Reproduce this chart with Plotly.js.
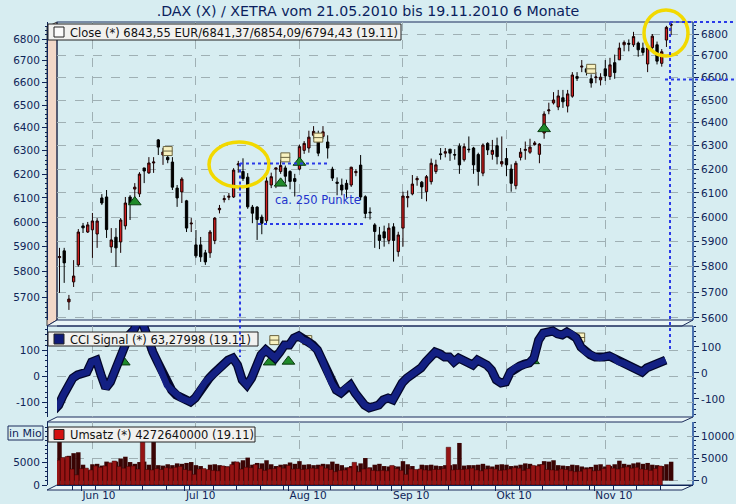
<!DOCTYPE html>
<html><head><meta charset="utf-8">
<script src="https://cdn.plot.ly/plotly-3.0.1.min.js"></script>
<style>html,body{margin:0;padding:0;background:#d7edf1;}</style>
</head><body><div id="chart" style="width:736px;height:504px;"></div>
<script>
const dates = [
"2010-05-21","2010-05-24","2010-05-25","2010-05-26","2010-05-27","2010-05-28","2010-05-31",
"2010-06-01","2010-06-02","2010-06-03","2010-06-04","2010-06-07","2010-06-08","2010-06-09","2010-06-10","2010-06-11","2010-06-14","2010-06-15","2010-06-16","2010-06-17","2010-06-18","2010-06-21","2010-06-22","2010-06-23","2010-06-24","2010-06-25","2010-06-28","2010-06-29","2010-06-30",
"2010-07-01","2010-07-02","2010-07-05","2010-07-06","2010-07-07","2010-07-08","2010-07-09","2010-07-12","2010-07-13","2010-07-14","2010-07-15","2010-07-16","2010-07-19","2010-07-20","2010-07-21","2010-07-22","2010-07-23","2010-07-26","2010-07-27","2010-07-28","2010-07-29","2010-07-30",
"2010-08-02","2010-08-03","2010-08-04","2010-08-05","2010-08-06","2010-08-09","2010-08-10","2010-08-11","2010-08-12","2010-08-13","2010-08-16","2010-08-17","2010-08-18","2010-08-19","2010-08-20","2010-08-23","2010-08-24","2010-08-25","2010-08-26","2010-08-27","2010-08-30","2010-08-31",
"2010-09-01","2010-09-02","2010-09-03","2010-09-06","2010-09-07","2010-09-08","2010-09-09","2010-09-10","2010-09-13","2010-09-14","2010-09-15","2010-09-16","2010-09-17","2010-09-20","2010-09-21","2010-09-22","2010-09-23","2010-09-24","2010-09-27","2010-09-28","2010-09-29","2010-09-30",
"2010-10-01","2010-10-04","2010-10-05","2010-10-06","2010-10-07","2010-10-08","2010-10-11","2010-10-12","2010-10-13","2010-10-14","2010-10-15","2010-10-18","2010-10-19","2010-10-20","2010-10-21","2010-10-22","2010-10-25","2010-10-26","2010-10-27","2010-10-28","2010-10-29",
"2010-11-01","2010-11-02","2010-11-03","2010-11-04","2010-11-05","2010-11-08","2010-11-09","2010-11-10","2010-11-11","2010-11-12","2010-11-15","2010-11-16","2010-11-17","2010-11-18","2010-11-19"];

const openP = [
5836,5863,5662,5740,5807,5964,5939,5948,5931,6079,
6083,5879,5918,5899,5964,6083,6116,6096,6205,6184,
6226,6325,6260,6250,6230,6120,6104,6067,5972,5887,
5887,5855,5855,5904,6030,6072,6082,6083,6218,6190,
6166,6041,6041,6000,5985,6133,6200,6190,6205,6190,
6160,6200,6280,6290,6345,6325,6340,6316,6200,6145,
6133,6140,6133,6185,6217,6084,6020,5968,5927,5940,
5905,5960,5860,5955,6080,6096,6155,6145,6105,6147,
6190,6265,6268,6285,6262,6298,6240,6285,6290,6262,
6183,6310,6263,6300,6222,6245,6200,6130,6250,6280,
6272,6305,6263,6355,6452,6487,6469,6510,6473,6517,
6605,6648,6640,6595,6600,6590,6640,6605,6668,6681,
6750,6757,6750,6758,6735,6662,6737,6750,6665,6772,
6841.37];
const highP = [
5875,5875,5689,5826,5951,5976,5980,6017,5996,6095,
6112,5955,5955,5996,6083,6091,6141,6187,6205,6251,
6251,6329,6290,6275,6251,6133,6166,6071,5996,5947,
5919,5867,5947,6000,6050,6090,6100,6204,6235,6246,
6183,6050,6045,6010,6165,6185,6205,6240,6215,6195,
6180,6305,6320,6365,6385,6365,6385,6345,6210,6165,
6160,6155,6210,6200,6260,6090,6040,5975,5960,5965,
5975,5975,5940,6105,6110,6175,6170,6150,6175,6245,
6240,6290,6290,6285,6285,6310,6310,6340,6295,6270,
6310,6315,6325,6335,6340,6290,6220,6235,6290,6318,
6330,6320,6311,6450,6488,6535,6545,6545,6545,6625,
6625,6680,6650,6615,6625,6620,6680,6690,6705,6760,
6770,6775,6810,6765,6760,6742,6800,6765,6730,6838,
6854.09];
const lowP = [
5697,5736,5631,5720,5800,5935,5935,5835,5875,6050,
5915,5855,5799,5855,5949,5988,6083,6083,6141,6180,
6184,6260,6218,6225,6112,6042,6058,5939,5939,5835,
5819,5807,5835,5890,6015,6060,6070,6079,6185,6150,
6034,5975,5907,5930,5975,6120,6120,6180,6140,6115,
6085,6195,6265,6270,6330,6255,6330,6245,6150,6090,
6090,6080,6125,6170,6070,5995,5990,5875,5870,5880,
5890,5820,5840,5880,6040,6090,6130,6075,6065,6135,
6180,6240,6250,6235,6240,6180,6232,6270,6180,6130,
6170,6260,6240,6220,6210,6170,6105,6115,6237,6240,
6265,6300,6225,6330,6437,6480,6455,6465,6445,6510,
6585,6625,6610,6555,6575,6565,6585,6590,6595,6680,
6720,6720,6740,6695,6700,6625,6730,6660,6650,6740,
6794.43];
const closeP = [
5840,5815,5673,5763,5939,5956,5968,5984,5984,6058,
5949,5907,5875,5988,6058,6054,6124,6179,6192,6226,
6230,6294,6273,6240,6124,6079,6158,5955,5975,5843,
5839,5819,5939,5996,6036,6076,6086,6196,6222,6160,
6042,6016,5990,5975,6150,6168,6205,6215,6170,6148,
6148,6296,6310,6337,6362,6268,6360,6290,6162,6140,
6112,6115,6208,6190,6083,6015,6018,5941,5905,5915,
5955,5905,5927,6087,6085,6137,6160,6125,6168,6225,
6218,6262,6274,6268,6260,6218,6296,6283,6218,6190,
6303,6282,6280,6253,6232,6218,6140,6225,6272,6284,
6294,6312,6307,6438,6456,6500,6518,6492,6527,6612,
6597,6652,6625,6576,6603,6602,6608,6658,6623,6735,
6761,6753,6788,6727,6715,6735,6790,6675,6718,6831,
6843.55];

const cciSignal = [
-129,-110,-71,-33,-6,6,10,17,56,63,
6,-44,-21,25,83,121,160,179,217,198,
140,94,56,17,-33,-52,-71,-83,-90,-98,
-83,-52,-25,-6,13,33,48,63,71,44,
-13,-33,-6,44,83,102,83,71,94,121,
121,148,156,140,133,121,102,63,17,-25,
-52,-63,-44,-33,-63,-90,-110,-121,-117,-110,
-90,-83,-90,-52,-25,-6,6,17,33,56,
79,94,87,75,75,56,71,63,52,44,
63,56,44,25,-13,-25,-21,17,33,40,
48,52,71,140,167,171,175,164,160,171,
164,148,113,94,83,75,71,75,79,71,
56,52,44,36,25,17,33,40,48,60,
63.27998];

const umsatzMio = [
10500,4800,5600,6200,6400,3600,2300,3700,3800,3400,
4300,4000,4300,5000,5400,4200,3800,4200,4300,3600,
10800,3500,3400,3700,3500,3900,3800,4000,4200,3500,
3300,2400,3600,3700,3500,3300,3200,4300,4100,4600,
5200,3600,4000,3900,4600,3700,3300,3600,3700,4100,
3800,4400,3600,3700,3500,3600,3800,3700,4300,3800,
3500,3000,3300,3400,3900,5100,3000,3600,3800,3300,
3200,3300,3200,4400,3700,3300,2400,3600,3500,3600,
3400,3300,3500,3500,3700,8500,3400,3500,3500,3600,
3800,3400,3200,3600,3700,3600,3300,3400,3600,3900,
3800,3300,3700,4400,4300,4600,3500,3400,3300,3600,
3500,3200,3000,3100,3600,3700,3200,3300,3700,4500,
3800,3600,3900,4100,3800,4000,3600,3500,3300,3700,
4272.64];

const signalIdx = [16, 47, 51, 103];
const signalPrice = [6062, 6140, 6228, 6373];
const markIdx = [23, 48, 55, 113];
const markPrice = [6277, 6250, 6335, 6640];
const cciSignalLevel = [55, 55, 58, 60];
const cciMarkLevel = [150, 140, 140, 150];
const monthNames = ["Jan","Feb","Mrz","Apr","Mai","Jun","Jul","Aug","Sep","Okt","Nov","Dez"];
const priceTicks = [5600,5700,5800,5900,6000,6100,6200,6300,6400,6500,6600,6700,6800];
const cciTicks = [-100, 0, 100];
const volTicks = [0, 5000, 10000];

// ---------- geometry ----------
const W = 736, H = 504;
const px = x => x / W, py = y => 1 - y / H;
const LN10 = Math.LN10;
const X_L = 57, X_R = 693, X_I0 = 59.5, X_STEP = 4.705, FRONT = 11, MID = 5.5;
const xr = [(X_L - X_I0) / X_STEP, (X_R - X_I0) / X_STEP];
const shiftR = (r, p) => [r[0] + p / X_STEP, r[1] + p / X_STEP];

const K = 1462.7, P_TOP = 22, P_BOT = 320;
const mainRange = [Math.log10(6800) - (P_BOT - 34) / K / LN10, Math.log10(6800) + (34 - P_TOP) / K / LN10];
const mainFront = mainRange.map(v => v + 5 / K / LN10);

const C_TOP = 326, C_BOT = 417, C_ZERO = 376.5, C_S = 0.26;
const cciRange = [(C_ZERO - C_BOT) / C_S, (C_ZERO - C_TOP) / C_S];
const cciRight = cciRange.map(v => v - 13.5);

const V_TOP = 422, V_BOT = 485, V_ZERO_R = 480.7, VPP = 225.2;
const volRight = [-(V_BOT - V_ZERO_R) * VPP, (V_ZERO_R - V_TOP) * VPP];
const volLeft = [0, (V_BOT - V_TOP) * VPP];

const idx = dates.map((d, i) => i);
const monthIdx = [], monthText = [], weekIdx = [];
dates.forEach((d, i) => {
  const dt = new Date(d + "T12:00:00Z");
  if (i > 0 && d.slice(5, 7) !== dates[i - 1].slice(5, 7)) {
    monthIdx.push(i); monthText.push(monthNames[dt.getUTCMonth()] + " " + d.slice(2, 4));
  }
  if (dt.getUTCDay() === 5) weekIdx.push(i);
});

const NAVY = "#0f2558", GRID = "#9fb0b4", FONT = "DejaVu Sans";
const tickFont = {family: FONT, size: 10.5, color: NAVY};
const priceMinor = []; for (let v = 5600; v <= 6860; v += 20) priceMinor.push(v);
const cciMinor = []; for (let v = -180; v <= 190; v += 20) cciMinor.push(v);
const volMinor = []; for (let v = 0; v <= 13000; v += 1000) volMinor.push(v);

const xBase = {domain: [px(X_L), px(X_R)], range: xr, showticklabels: false, ticks: "",
  tickmode: "array", tickvals: monthIdx, showgrid: true, gridcolor: GRID, griddash: "dash",
  gridwidth: 1, zeroline: false, showline: false, fixedrange: true};

const traces = [
  {type: "candlestick", x: idx, open: openP, high: highP, low: lowP, close: closeP,
   text: dates, xaxis: "x", yaxis: "y", whiskerwidth: 0,
   increasing: {line: {color: "#1a0000", width: 1}, fillcolor: "#d21e1e"},
   decreasing: {line: {color: "#000000", width: 1}, fillcolor: "#000000"},
   showlegend: false, hoverinfo: "skip"},
  {type: "scatter", mode: "markers", x: signalIdx, y: signalPrice, xaxis: "x", yaxis: "y",
   marker: {symbol: "triangle-up", size: 11, color: "#1f8a2a", line: {color: "#0a3a10", width: 1}},
   showlegend: false, hoverinfo: "skip"},
  {type: "scatter", mode: "markers", x: markIdx, y: markPrice, xaxis: "x", yaxis: "y",
   marker: {symbol: "square", size: 9, color: "#f8f2c0", line: {color: "#6b6440", width: 1}},
   showlegend: false, hoverinfo: "skip"},
  {type: "scatter", mode: "markers", x: markIdx, y: markPrice, xaxis: "x", yaxis: "y",
   marker: {symbol: "line-ew", size: 7, line: {color: "#6b6440", width: 1}},
   showlegend: false, hoverinfo: "skip"},
  {type: "scatter", mode: "markers", x: [0], y: [6000], xaxis: "x", yaxis: "y4",
   marker: {opacity: 0}, showlegend: false, hoverinfo: "skip"},
  // CCI ribbon (3D band)
  {type: "scatter", mode: "lines", x: idx, y: cciSignal, xaxis: "x6", yaxis: "y2",
   line: {color: "#03062a", width: 9}, showlegend: false, hoverinfo: "skip"},
  {type: "scatter", mode: "lines", x: idx, y: cciSignal, xaxis: "x6", yaxis: "y2",
   line: {color: "#132083", width: 6.5}, showlegend: false, hoverinfo: "skip"},
  {type: "scatter", mode: "markers", x: signalIdx, y: cciSignalLevel, xaxis: "x5", yaxis: "y2",
   marker: {symbol: "triangle-up", size: 11, color: "#1f8a2a", line: {color: "#0a3a10", width: 1}},
   showlegend: false, hoverinfo: "skip"},
  {type: "scatter", mode: "markers", x: markIdx, y: cciMarkLevel, xaxis: "x5", yaxis: "y2",
   marker: {symbol: "square", size: 9, color: "#f8f2c0", line: {color: "#6b6440", width: 1}},
   showlegend: false, hoverinfo: "skip"},
  {type: "scatter", mode: "markers", x: markIdx, y: cciMarkLevel, xaxis: "x5", yaxis: "y2",
   marker: {symbol: "line-ew", size: 7, line: {color: "#6b6440", width: 1}},
   showlegend: false, hoverinfo: "skip"},
  {type: "scatter", mode: "markers", x: [0], y: [0], xaxis: "x2", yaxis: "y6",
   marker: {opacity: 0}, showlegend: false, hoverinfo: "skip"},
  // volume (back faces dark, front faces red)
  {type: "bar", x: idx, y: umsatzMio, xaxis: "x3", yaxis: "y3", width: 0.95,
   marker: {color: "#3a0404", line: {width: 0}}, showlegend: false, hoverinfo: "skip"},
  {type: "bar", x: idx, y: umsatzMio, xaxis: "x4", yaxis: "y5", width: 0.95,
   marker: {color: "#961414", line: {color: "#3a0000", width: 0.5}}, showlegend: false, hoverinfo: "skip"}
];

const fmt = v => v.toFixed(2).replace(".", ",");
const L = closeP.length - 1;
const dayTxt = " (" + dates[L].slice(8, 10) + "." + dates[L].slice(5, 7) + ")";
const closeText = "Close (*) " + fmt(closeP[L]) + " EUR/" + fmt(openP[L]) + "/" + fmt(highP[L]) + "/" + fmt(lowP[L]) + dayTxt;
const cciText = "CCI Signal (*) " + String(cciSignal[L]).replace(".", ",") + dayTxt;
const volText = "Umsatz (*) " + Math.round(umsatzMio[L] * 1e6) + dayTxt;

const rectPx = (x0, y0, x1, y1, fill, line) => ({type: "rect", xref: "paper", yref: "paper",
  x0: px(x0), x1: px(x1), y0: py(y1), y1: py(y0), fillcolor: fill, line: {color: line, width: 1}, layer: "above"});
const linePx = (x0, y0, x1, y1, color, width, dash, layer) => ({type: "line", xref: "paper", yref: "paper",
  x0: px(x0), x1: px(x1), y0: py(y0), y1: py(y1), line: {color: color, width: width, dash: dash || "solid"}, layer: layer || "above"});
const pathPx = (pts, fill, line, layer) => ({type: "path", xref: "paper", yref: "paper",
  path: pts.map((p, k) => (k ? "L" : "M") + px(p[0]) + "," + py(p[1])).join(" ") + " Z",
  fillcolor: fill, line: {color: line, width: 1}, layer: layer || "below"});

const shapes = [
  pathPx([[47, 27], [57, 22], [57, 320], [47, 326]], "#f2d8c8", "#3a3a3a", "below"),
  pathPx([[47, 326], [682, 326], [693, 320], [57, 320]], "#eaf6f8", "#1b2b5a", "below"),
  pathPx([[47, 422], [682, 422], [693, 417], [57, 417]], "#eaf6f8", "#1b2b5a", "below"),
  pathPx([[47, 490], [682, 490], [693, 485], [57, 485]], "#eaf6f8", "#1b2b5a", "below"),
  linePx(57, 22, 693, 22, "#1b2b5a", 1, "solid", "below"),
  linePx(693, 22, 693, 320, "#1c4a9a", 1.5, "solid", "below"),
  linePx(57, 22, 57, 320, "#1b2b5a", 1, "solid", "below"),
  linePx(57, 326, 693, 326, "#1b2b5a", 1, "solid", "below"),
  linePx(693, 326, 693, 417, "#1c4a9a", 1.5, "solid", "below"),
  linePx(693, 422, 693, 485, "#1c4a9a", 1.5, "solid", "below"),
  rectPx(48, 24, 401, 40, "#f1f1ef", "#222222"),
  rectPx(54, 27, 64, 37, "#fafafa", "#222222"),
  rectPx(48, 332, 258, 346, "#f1f1ef", "#222222"),
  rectPx(54, 334, 64, 344, "#0e1a78", "#222222"),
  rectPx(48, 427, 255, 442, "#f1f1ef", "#222222"),
  rectPx(54, 429.5, 64, 439.5, "#d41010", "#222222"),
  rectPx(8, 426, 43, 440, "#d7edf1", "#1b2b5a"),
  {type: "circle", xref: "paper", yref: "paper", x0: px(209), x1: px(269), y0: py(187), y1: py(142),
   line: {color: "#f2d900", width: 3.5}, layer: "above"},
  {type: "circle", xref: "paper", yref: "paper", x0: px(644), x1: px(688), y0: py(56), y1: py(10),
   line: {color: "#f2d900", width: 3.5}, layer: "above"},
  linePx(240, 163.5, 240, 357, "#2a3ae8", 2, "dot"),
  linePx(240, 163.5, 328, 163.5, "#2a3ae8", 2, "dot"),
  linePx(258, 224, 363, 224, "#2a3ae8", 2, "dot"),
  linePx(670, 22, 670, 352, "#2a3ae8", 2, "dot"),
  linePx(670, 22, 736, 22, "#2a3ae8", 2, "dot"),
  linePx(665, 79.5, 736, 79.5, "#2a3ae8", 2, "dot")
];

const annText = (x, y, text, opts) => Object.assign({xref: "paper", yref: "paper", x: px(x), y: py(y),
  xanchor: "left", yanchor: "middle", showarrow: false, text: text,
  font: {family: FONT, size: 11.5, color: "#111111"}}, opts || {});

const annotations = [
  annText(68, 32.5, closeText),
  annText(68, 339.5, cciText),
  annText(68, 435, volText),
  annText(25.5, 433.5, "in Mio", {xanchor: "center", font: {family: FONT, size: 11, color: NAVY}}),
  annText(273, 200, "ca. 250 Punkte", {font: {family: FONT, size: 11.5, color: "#2233cc"}})
];

const layout = {
  width: W, height: H, autosize: false,
  margin: {l: 0, r: 0, t: 0, b: 0},
  paper_bgcolor: "#d7edf1", plot_bgcolor: "rgba(0,0,0,0)",
  showlegend: false, barmode: "overlay", dragmode: false,
  title: {text: ".DAX (X) / XETRA vom 21.05.2010 bis 19.11.2010 6 Monate", x: 0.5, xanchor: "center",
          y: py(11.5), yanchor: "middle", font: {family: FONT, size: 14.2, color: "#0b1f5e"}},
  xaxis: Object.assign({}, xBase, {anchor: "y", rangeslider: {visible: false}}),
  xaxis2: Object.assign({}, xBase, {anchor: "y2"}),
  xaxis3: Object.assign({}, xBase, {anchor: "y3"}),
  xaxis4: {overlaying: "x3", anchor: "y5", range: shiftR(xr, FRONT), tickmode: "array",
           tickvals: monthIdx, ticktext: monthText, ticks: "outside", ticklen: 5, tickcolor: NAVY,
           ticklabelposition: "outside right", tickfont: tickFont, showgrid: false, zeroline: false,
           showline: true, linecolor: NAVY, linewidth: 1,
           minor: {tickvals: weekIdx, ticks: "outside", ticklen: 4, tickcolor: NAVY, showgrid: false},
           fixedrange: true},
  xaxis5: {overlaying: "x2", anchor: "y2", range: shiftR(xr, FRONT), visible: false, fixedrange: true},
  xaxis6: {overlaying: "x2", anchor: "y2", range: shiftR(xr, MID), visible: false, fixedrange: true},
  yaxis: {domain: [py(P_BOT), py(P_TOP)], type: "log", range: mainRange, side: "right", anchor: "x",
          tickmode: "array", tickvals: priceTicks, ticktext: priceTicks.map(String),
          ticks: "outside", ticklen: 5, tickcolor: NAVY, tickfont: tickFont, showgrid: true, gridcolor: GRID,
          griddash: "dash", zeroline: false, showline: false,
          minor: {tickvals: priceMinor, ticks: "outside", ticklen: 2, tickcolor: NAVY, showgrid: false},
          fixedrange: true},
  yaxis4: {overlaying: "y", type: "log", range: mainFront, side: "left", anchor: "free", position: px(47),
           tickmode: "array", tickvals: priceTicks.slice(1), ticktext: priceTicks.slice(1).map(String),
           ticks: "outside", ticklen: 5, tickcolor: NAVY, tickfont: tickFont, showgrid: false, zeroline: false,
           showline: true, linecolor: NAVY,
           minor: {tickvals: priceMinor, ticks: "outside", ticklen: 2, tickcolor: NAVY, showgrid: false},
           fixedrange: true},
  yaxis2: {domain: [py(C_BOT), py(C_TOP)], range: cciRange, side: "left", anchor: "free", position: px(47),
           tickmode: "array", tickvals: cciTicks, ticktext: cciTicks.map(String), ticks: "outside", ticklen: 5, tickcolor: NAVY,
           tickfont: tickFont, showgrid: true, gridcolor: GRID, griddash: "dash", zeroline: false,
           showline: true, linecolor: NAVY,
           minor: {tickvals: cciMinor, ticks: "outside", ticklen: 2, tickcolor: NAVY, showgrid: false},
           fixedrange: true},
  yaxis6: {overlaying: "y2", range: cciRight, side: "right", anchor: "x2",
           tickmode: "array", tickvals: cciTicks, ticktext: cciTicks.map(String), ticks: "outside", ticklen: 5, tickcolor: NAVY,
           tickfont: tickFont, showgrid: false, zeroline: false, showline: false,
           minor: {tickvals: cciMinor, ticks: "outside", ticklen: 2, tickcolor: NAVY, showgrid: false},
           fixedrange: true},
  yaxis3: {domain: [py(V_BOT), py(V_TOP)], range: volRight, side: "right", anchor: "x3",
           tickmode: "array", tickvals: volTicks, ticktext: volTicks.map(String), ticks: "outside", ticklen: 5, tickcolor: NAVY,
           tickfont: tickFont, showgrid: true, gridcolor: GRID, griddash: "dash", zeroline: false, showline: false,
           minor: {tickvals: volMinor, ticks: "outside", ticklen: 2, tickcolor: NAVY, showgrid: false},
           fixedrange: true},
  yaxis5: {overlaying: "y3", range: volLeft, side: "left", anchor: "free", position: px(47),
           tickmode: "array", tickvals: volTicks.slice(0, 2), ticktext: volTicks.slice(0, 2).map(String),
           ticks: "outside", ticklen: 5, tickcolor: NAVY,
           tickfont: tickFont, showgrid: false, zeroline: false, showline: true, linecolor: NAVY,
           minor: {tickvals: volMinor, ticks: "outside", ticklen: 2, tickcolor: NAVY, showgrid: false},
           fixedrange: true},
  shapes: shapes,
  annotations: annotations
};

Plotly.newPlot("chart", traces, layout, {staticPlot: true, displayModeBar: false});
</script>
</body></html>
